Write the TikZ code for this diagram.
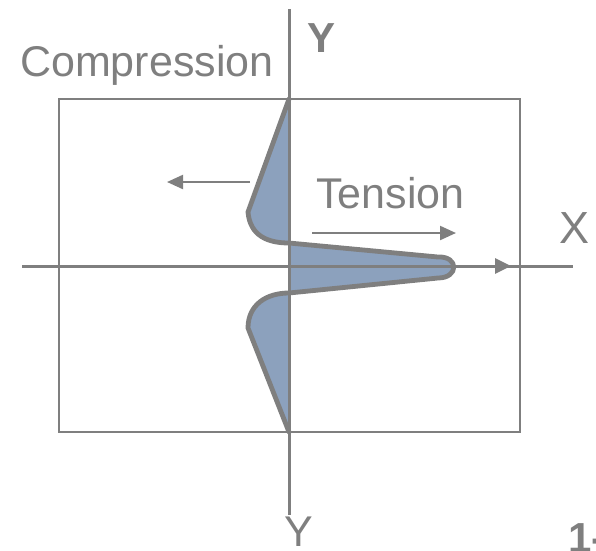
\documentclass[tikz,border=0pt]{standalone}
\usepackage{fontspec}
\setmainfont{Liberation Sans}
\usetikzlibrary{arrows.meta}
\definecolor{lgray}{HTML}{7F7F7F}
\definecolor{lobe}{HTML}{8CA1BD}
\tikzset{
  lbl/.style={inner sep=0pt, text=lgray, font=\fontsize{43}{50}\selectfont},
  axisline/.style={draw=lgray, line width=3pt},
  frame/.style={draw=lgray, line width=2.7pt},
  force/.style={draw=lgray, line width=2.2pt, -{Triangle[length=16pt,width=14pt]}},
  outline/.style={draw=lgray, line width=4.8pt, line join=round, line cap=round},
}
\begin{document}
\begin{tikzpicture}[x=1pt,y=-1pt]
\useasboundingbox (0,0) rectangle (596,550);
\clip (0,0) rectangle (596,550);
% coordinates
\coordinate (top) at (289,99);
\coordinate (bot) at (289,432);
\coordinate (yt) at (289,9);
\coordinate (yb) at (289,515);
\coordinate (xl) at (22,266);
\coordinate (xr) at (573,266);
\coordinate (xa) at (511,266);
\coordinate (ts) at (312,233);
\coordinate (te) at (456,233);
\coordinate (cs) at (250,182);
\coordinate (ce) at (167,182);
% stress shape
\fill[lobe] (top) -- (248,212) .. controls (250,236) and (268,243) .. (289,243)
  -- (438,257) .. controls (459,256) and (459,278) .. (438,278)
  -- (289,293) .. controls (266,293) and (248,305) .. (248,328) -- (bot) -- cycle;
\draw[outline] (top) -- (248,212) .. controls (250,236) and (268,243) .. (289,243)
  -- (438,257) .. controls (459,256) and (459,278) .. (438,278)
  -- (289,293) .. controls (266,293) and (248,305) .. (248,328) -- (bot);
% frame
\draw[frame] (59,99) rectangle (520,432);
% axes
\draw[axisline] (yt) -- (yb);
\draw[axisline] (xl) -- (xr);
\draw[axisline, -{Triangle[length=16pt,width=15pt]}] (xl) -- (xa);
% force arrows
\draw[force] (ts) -- (te);
\draw[force] (cs) -- (ce);
% labels
\node[lbl, anchor=base west] (comp) at (20,76) {Compression};
\node[lbl, anchor=base west] (tens) at (316,208) {Tension};
\node[lbl, anchor=base, font=\fontsize{45}{50}\selectfont] (xlab) at (574,243) {X};
\node[lbl, anchor=base, font=\fontsize{42}{50}\selectfont\bfseries] (ytop) at (322,52) {Y};
\node[lbl, anchor=base] (ybot) at (299,546) {Y};
\node[lbl, anchor=base west, font=\fontsize{42}{50}\selectfont\bfseries] (num) at (568,552) {1-};
\end{tikzpicture}
\end{document}
